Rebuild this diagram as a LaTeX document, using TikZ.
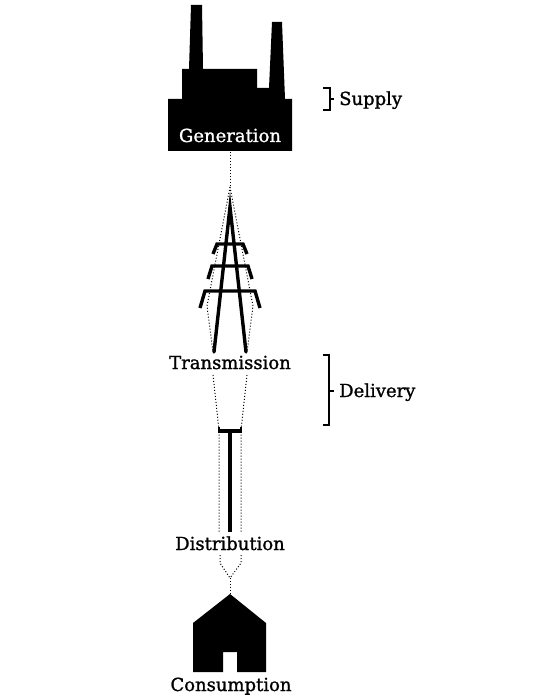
\documentclass[tikz,border=0pt]{standalone}
\usepackage{fontspec}
\setmainfont[FakeBold=1.2]{DejaVu Serif}
\tikzset{
  stagelabel/.style={inner sep=0pt, anchor=base, font=\fontsize{18}{20}\selectfont},
  dotline/.style={dash pattern=on 1pt off 2pt, line width=1pt, black},
  blackshape/.style={fill=black, draw=none},
  poleline/.style={line width=3.4pt, line cap=round},
  bracketline/.style={line width=1.6pt}
}
\begin{document}
\begin{tikzpicture}[x=1pt, y=-1pt]
\useasboundingbox (0,0) rectangle (540,700);

% Factory
\fill [blackshape] (168,151) -- (168,99) -- (182,99) -- (182,69) -- (189,69) -- (191,5) -- (202,5) -- (203,69) -- (257,69) -- (257,88) -- (269,88) -- (272,22) -- (282,22) -- (285,99) -- (292,99) -- (292,151) -- cycle;

% Tower
\draw [poleline] (214,352) -- (230,207) -- (246,352);
\draw [poleline, line cap=butt] (213,254) -- (217,244) -- (243,244) -- (247,254);
\draw [poleline, line cap=butt] (208,279) -- (212,266) -- (248,266) -- (252,279);
\draw [poleline, line cap=butt] (200,308) -- (205,291) -- (255,291) -- (260,308);

% Pole
\draw [poleline, line cap=butt] (218,431) -- (242,431);
\draw [line width=2pt] (219,427) -- (219,431);
\draw [line width=2pt] (241,427) -- (241,431);
\draw [poleline, line cap=butt] (230,431) -- (230,532);

% House
\fill [blackshape] (230,594) -- (193,623) -- (193,672) -- (223,672) -- (223,652) -- (237,652) -- (237,672) -- (266,672) -- (266,623) -- cycle;

% Stages
\node [stagelabel, text=white] (generation) at (230,142) {Generation};
\node [stagelabel] (transmission) at (230,369) {Transmission};
\node [stagelabel] (distribution) at (230,550) {Distribution};
\node [stagelabel] (consumption) at (231,691) {Consumption};
\node [stagelabel, anchor=base west] (supply) at (339,105) {Supply};
\node [stagelabel, anchor=base west] (delivery) at (339,397) {Delivery};

% Dotted path
\coordinate (factorybase) at (230,152);
\coordinate (towersplit) at (230,187);
\coordinate (towerleft) at (207,306);
\coordinate (towerright) at (253,306);
\coordinate (transleftA) at (213,352);
\coordinate (transrightA) at (247,352);
\coordinate (transleftB) at (213,375);
\coordinate (transrightB) at (247,375);
\coordinate (poleleftA) at (219,430);
\coordinate (polerightA) at (241,430);
\coordinate (poleleftB) at (219,532);
\coordinate (polerightB) at (241,532);
\coordinate (distleft) at (220,555);
\coordinate (distright) at (241,555);
\coordinate (housemerge) at (230,578);
\coordinate (houseroof) at (230,594);

\draw [dotline] (factorybase) -- (towersplit);
\draw [dotline] (towersplit) -- (towerleft) -- (transleftA);
\draw [dotline] (towersplit) -- (towerright) -- (transrightA);
\draw [dotline] (transleftB) -- (poleleftA) -- (poleleftB);
\draw [dotline] (transrightB) -- (polerightA) -- (polerightB);
\draw [dotline] (distleft) -- ++(0,8) -- (housemerge);
\draw [dotline] (distright) -- ++(0,8) -- (housemerge);
\draw [dotline] (housemerge) -- (houseroof);

% Brackets
\draw [bracketline] (323,88) -- (330,88) -- (330,110) -- (323,110);
\draw [bracketline] (330,99) -- (334,99);
\draw [bracketline] (323,355) -- (329,355) -- (329,425) -- (323,425);
\draw [bracketline] (329,391) -- (334,391);
\end{tikzpicture}
\end{document}
